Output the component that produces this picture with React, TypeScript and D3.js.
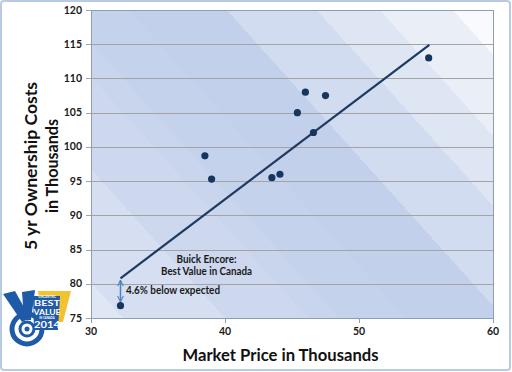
import React from 'react';
import * as d3 from 'd3';

// market price (k$) vs 5 yr ownership cost (k$)
const prices = [32.2, 38.5, 39.0, 43.5, 44.1, 45.4, 46.0, 46.6, 47.5, 55.2];
const costs = [76.8, 98.7, 95.3, 95.5, 96.0, 105.0, 108.0, 102.1, 107.5, 113.0];
const trendX = [32.2, 55.25];
const trendY = [80.8, 114.9];
const highlightIndex = 0;

const xTicks = [30, 40, 50, 60];
const yTicks = [75, 80, 85, 90, 95, 100, 105, 110, 115, 120];

const calloutLines = ['Buick Encore:', 'Best Value in Canada'];
const gapLabel = '4.6% below expected';
const xTitle = 'Market Price in Thousands';
const yTitleLines = ['5 yr Ownership Costs', 'in Thousands'];

// stepped diagonal shading of the plot background: [t, colour]
const bandT = [-195, -163, -61, 22, 53, 120, 218, 308, 371, 444, 488];
const bandColors = ['#e0e7f4', '#d5dff1', '#cdd8ee', '#c9d5ed', '#c5d2ec', '#c3d0eb', '#d2dcf0', '#dee6f3', '#e9eef7', '#f8fafd'];

const badgeLines = ['VINCENTRIC', 'BEST', 'VALUE', 'IN CANADA', '2014'];

const FONT = 'Lato, "Open Sans", sans-serif';

export default function App() {
  const width = 512;
  const height = 372;
  const left = 91, right = 493, top = 10, bottom = 318;

  const x = d3.scaleLinear().domain([30, 60]).range([left, right]);
  const y = d3.scaleLinear().domain([75, 120]).range([bottom, top]);

  const trend = d3.line<number>()
    .x((d, i) => x(trendX[i]))
    .y((d, i) => y(trendY[i]));

  // gradient along the normal of the lines x - 0.9y = const
  const t0 = bandT[0], t1 = bandT[bandT.length - 1];
  const a = (t1 - t0) / 1.81;
  const off = (t: number) => (t - t0) / (t1 - t0);
  const stops: { o: number; c: string }[] = [];
  bandColors.forEach((c, i) => {
    stops.push({ o: off(bandT[i]), c });
    stops.push({ o: off(bandT[i + 1]), c });
  });

  const hx = x(prices[highlightIndex]);
  const hyExp = y(trendY[0]);
  const hyAct = y(costs[highlightIndex]);

  return (
    <svg width={width} height={height} style={{ position: 'absolute', left: 0, top: 0 }} fontFamily={FONT}>
      <defs>
        <linearGradient id="bands" gradientUnits="userSpaceOnUse"
          x1={left} y1={bottom} x2={left + a} y2={bottom - 0.9 * a}>
          {stops.map((s, i) => <stop key={i} offset={s.o} stopColor={s.c} />)}
        </linearGradient>
        <marker id="head" viewBox="0 0 10 10" refX="9" refY="5" markerWidth="7" markerHeight="7"
          orient="auto-start-reverse" markerUnits="userSpaceOnUse">
          <path d="M1,1 L9,5 L1,9" fill="none" stroke="#4f81bd" strokeWidth={1.6} />
        </marker>
      </defs>

      <rect x={1} y={1} width={width - 3} height={height - 3} rx={3} fill="#fff" stroke="#b9cbe3" strokeWidth={2} />

      <rect x={left} y={top} width={right - left} height={bottom - top} fill="url(#bands)" />

      {yTicks.map(t => (
        <g key={t}>
          <line x1={left - 5} x2={right} y1={Math.round(y(t)) + 0.5} y2={Math.round(y(t)) + 0.5}
            stroke="#a3a3a3" strokeWidth={1} />
          <text x={left - 9} y={y(t) + 3.5} textAnchor="end" fontSize={10.5} fontWeight="bold" fill="#1a1a1a">{t}</text>
        </g>
      ))}
      <rect x={left + 0.5} y={top + 0.5} width={right - left} height={bottom - top} fill="none" stroke="#8d9db5" strokeWidth={1} />
      {xTicks.map(t => (
        <g key={t}>
          <line x1={Math.round(x(t)) + 0.5} x2={Math.round(x(t)) + 0.5} y1={bottom} y2={bottom + 5} stroke="#8d9db5" />
          <text x={x(t)} y={bottom + 17} textAnchor="middle" fontSize={10.5} fontWeight="bold" fill="#1a1a1a">{t}</text>
        </g>
      ))}

      <path d={trend([0, 1]) || ''} fill="none" stroke="#1f3a60" strokeWidth={2.2} />

      {prices.map((p, i) => (
        <circle key={i} cx={x(p)} cy={y(costs[i])} r={3.6} fill="#17365d" />
      ))}

      <line x1={hx} x2={hx} y1={hyExp + 2} y2={hyAct - 4} stroke="#4f81bd" strokeWidth={1.5}
        markerStart="url(#head)" markerEnd="url(#head)" />
      <text x={126} y={294} fontSize={10.5} fontWeight="bold" fill="#1a1a1a" textLength={94} lengthAdjust="spacingAndGlyphs">{gapLabel}</text>
      {calloutLines.map((s, i) => (
        <text key={i} x={206.5} y={263 + i * 12.3} textAnchor="middle" fontSize={10.5} fontWeight="bold" fill="#1a1a1a"
          textLength={i === 0 ? 60 : 91} lengthAdjust="spacingAndGlyphs">{s}</text>
      ))}

      <text x={280.5} y={361} textAnchor="middle" fontSize={17} fontWeight="bold" fill="#111"
        textLength={196} lengthAdjust="spacingAndGlyphs">{xTitle}</text>
      {yTitleLines.map((s, i) => (
        <text key={i} transform={`translate(${37 + i * 21},166) rotate(-90)`} textAnchor="middle" fontSize={17}
          fontWeight="bold" fill="#111" textLength={i === 0 ? 168 : 94} lengthAdjust="spacingAndGlyphs">{s}</text>
      ))}

      <Badge />
    </svg>
  );
}

function Badge() {
  const blue = '#1f5aa6';
  return (
    <g>
      <path d="M38,291 L71,291 L63,322 L42,322 Z" fill="#f2c330" />
      <circle cx={27} cy={329} r={15} fill="none" stroke={blue} strokeWidth={5} />
      <circle cx={27} cy={329} r={7} fill="none" stroke={blue} strokeWidth={3} />
      <circle cx={27} cy={329} r={2.5} fill={blue} />
      <path d="M3,294 L15,291 L30,318 L22,322 Z" fill={blue} />
      <path d="M22,292 L35,290 L31,320 L24,320 Z" fill={blue} />
      <path d="M33,296 L60,296 L58,330 L34,330 Z" fill={blue} />
      <text x={47} y={298.3} textAnchor="middle" fontSize={3} fontWeight="bold" fill="#fff">{badgeLines[0]}</text>
      <text x={47} y={306.3} textAnchor="middle" fontSize={8} fontWeight="bold" fill="#fff" textLength={26} lengthAdjust="spacingAndGlyphs">{badgeLines[1]}</text>
      <text x={47} y={314.5} textAnchor="middle" fontSize={7.5} fontWeight="bold" fill="#fff" textLength={27} lengthAdjust="spacingAndGlyphs">{badgeLines[2]}</text>
      <text x={47} y={319.2} textAnchor="middle" fontSize={2.8} fontWeight="bold" fill="#fff">{badgeLines[3]}</text>
      <text x={47} y={328.3} textAnchor="middle" fontSize={8.5} fontWeight="bold" fill="#fff"
        textLength={26} lengthAdjust="spacingAndGlyphs">{badgeLines[4]}</text>
    </g>
  );
}
